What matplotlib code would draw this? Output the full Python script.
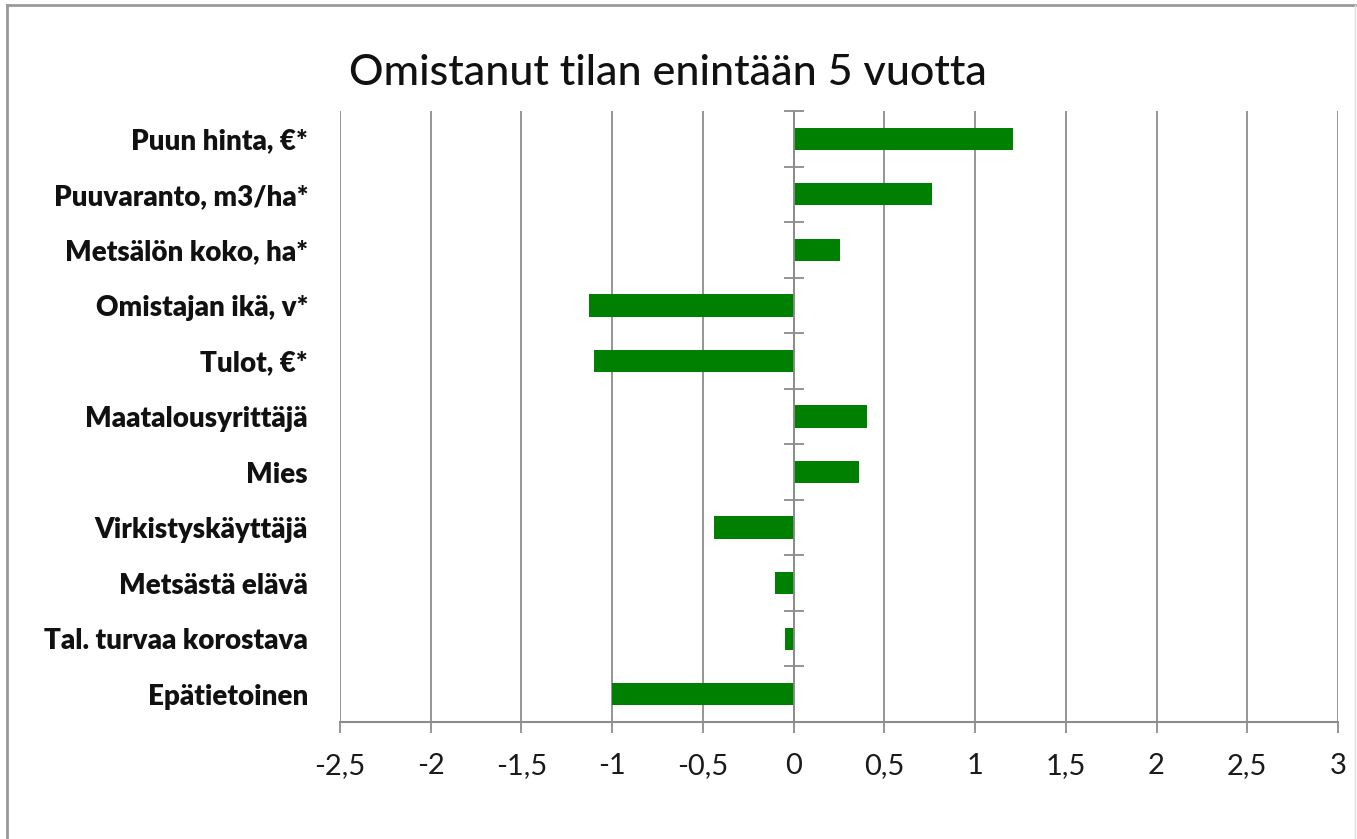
import matplotlib
matplotlib.use("Agg")
import matplotlib.pyplot as plt
from matplotlib.lines import Line2D
import numpy as np

title = "Omistanut tilan enintään 5 vuotta"
categories = ["Puun hinta, €*", "Puuvaranto, m3/ha*", "Metsälön koko, ha*",
              "Omistajan ikä, v*", "Tulot, €*", "Maatalousyrittäjä", "Mies",
              "Virkistyskäyttäjä", "Metsästä elävä", "Tal. turvaa korostava",
              "Epätietoinen"]
values = [1.21, 0.76, 0.255, -1.13, -1.10, 0.405, 0.36, -0.44, -0.10, -0.045, -1.00]
xticks = [-2.5, -2, -1.5, -1, -0.5, 0, 0.5, 1, 1.5, 2, 2.5, 3]
xticklabels = ["-2,5", "-2", "-1,5", "-1", "-0,5", "0", "0,5", "1", "1,5", "2", "2,5", "3"]

plt.rcParams['font.family'] = ['Lato', 'DejaVu Sans']

W, H = 1357, 839
fig = plt.figure(figsize=(W / 100, H / 100), dpi=100)
fig.patch.set_facecolor("white")

ax = fig.add_axes([340 / W, 1 - 722 / H, (1338 - 340) / W, (722 - 111) / H])

n = len(categories)
ypos = np.arange(n)
ax.barh(ypos, values, height=0.4, color="#008000", zorder=3)
ax.set_ylim(n - 0.5, -0.5)
ax.set_xlim(-2.5, 3)

grid_c = "#8c8c8c"
ax.set_xticks(xticks)
ax.set_xticklabels(xticklabels, fontsize=21, color="#1a1a1a")
ax.grid(axis="x", color=grid_c, linewidth=1.3, zorder=0)
ax.tick_params(axis="x", direction="out", length=8, width=1.3, color=grid_c, pad=14)

ax.set_yticks(ypos)
ax.set_yticklabels(categories, fontsize=20, fontweight="heavy", color="#111111")
ax.tick_params(axis="y", length=0, pad=23)

for s in ["left", "right", "top"]:
    ax.spines[s].set_visible(False)
ax.spines["bottom"].set_color(grid_c)
ax.spines["bottom"].set_linewidth(1.5)

# vertical zero axis with category boundary ticks
ax.axvline(0, color=grid_c, linewidth=1.3, zorder=4)
bounds = np.arange(n + 1) - 0.5
ax.plot(np.zeros_like(bounds), bounds, linestyle="none", marker="_",
        markersize=15, markeredgewidth=1.3, color=grid_c, zorder=4, clip_on=False)

fig.text(668 / W, 1 - 73 / H, title, ha="center", va="center", fontsize=31,
         fontweight="medium", color="#111111")

# outer chart border
fig.add_artist(Line2D([7 / W, 7 / W], [0, 1 - 5 / H], transform=fig.transFigure, color="#999999", linewidth=2))
fig.add_artist(Line2D([7 / W, 1355 / W], [1 - 5 / H, 1 - 5 / H], transform=fig.transFigure, color="#999999", linewidth=2))
fig.add_artist(Line2D([1355 / W, 1355 / W], [0, 1 - 5 / H], transform=fig.transFigure, color="#dddddd", linewidth=1))

fig.savefig("out.png", dpi=100, facecolor="white")
